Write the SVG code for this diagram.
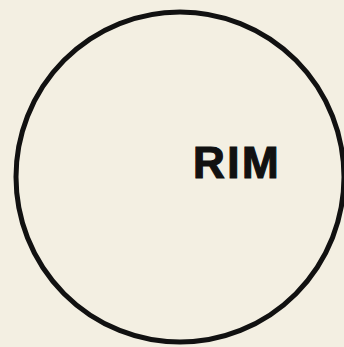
<svg xmlns="http://www.w3.org/2000/svg" width="344" height="347" viewBox="0 0 344 347">
  <style>
    .ring { fill: none; stroke: #111; stroke-width: 5; }
    .lbl { font-family: "Liberation Sans", Arial, sans-serif; font-weight: bold; font-size: 44px; fill: #111; stroke: #111; stroke-width: 1.2; letter-spacing: 2.5px; }
  </style>
  <rect x="0" y="0" width="344" height="347" fill="#f3efe2"/>
  <g id="rim">
    <ellipse class="ring" cx="180" cy="177" rx="164" ry="165"/>
    <text class="lbl" x="193" y="178">RIM</text>
  </g>
</svg>
